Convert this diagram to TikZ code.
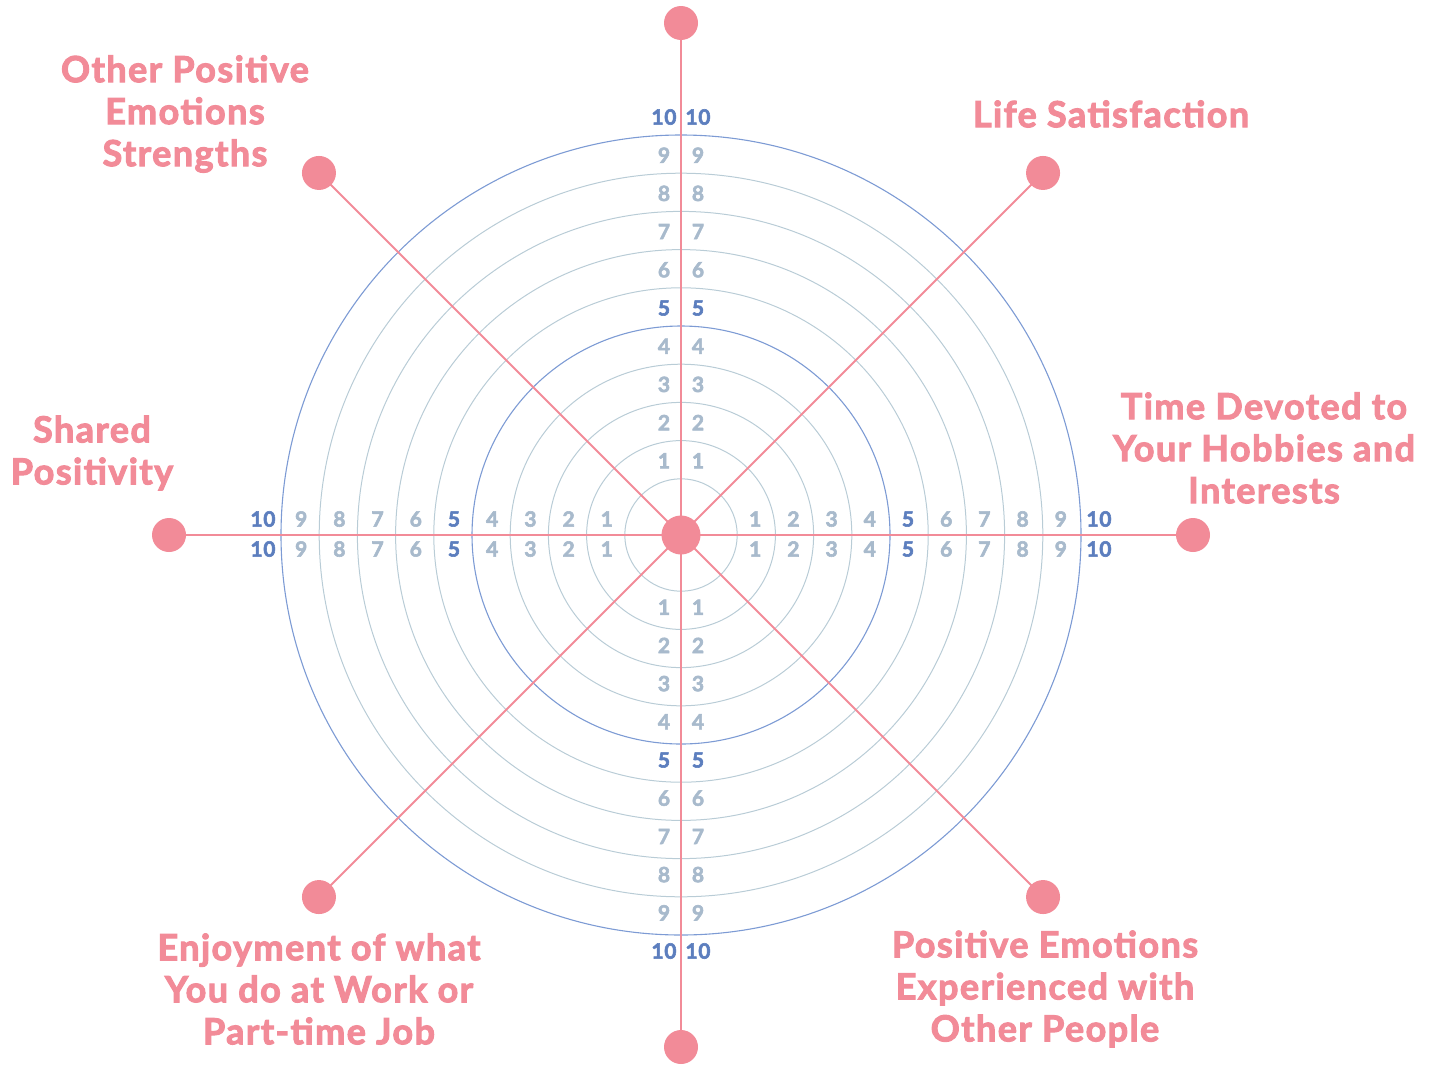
\documentclass[tikz,border=0pt]{standalone}
\usepackage{fontspec}
\setmainfont{Lato}[BoldFeatures={FakeBold=2.8}]
\usetikzlibrary{calc}
\definecolor{pk}{RGB}{242,139,152}
\definecolor{nblue}{RGB}{92,126,190}
\definecolor{ngrey}{RGB}{168,186,204}
\definecolor{cblue}{RGB}{125,155,212}
\definecolor{cgrey}{RGB}{185,204,214}
\tikzset{
  ringmajor/.style={draw=cblue,line width=1.1pt},
  ringminor/.style={draw=cgrey,line width=1pt},
  spoke/.style={draw=pk,line width=2pt},
  enddot/.style={circle,fill=pk,minimum size=34pt,inner sep=0pt},
  hubdot/.style={circle,fill=pk,minimum size=39pt,inner sep=0pt},
  nummajor/.style={text=nblue,font=\fontsize{21}{21}\selectfont\bfseries\addfontfeatures{LetterSpace=3,FakeBold=3.6},inner sep=0pt},
  numminor/.style={text=ngrey,font=\fontsize{21}{21}\selectfont\bfseries\addfontfeatures{LetterSpace=3,FakeBold=3.6},inner sep=0pt},
  cat/.style={text=pk,font=\fontsize{36}{42}\selectfont\bfseries\addfontfeatures{LetterSpace=4,FakeBold=3.6},align=center,inner sep=0pt}
}
\begin{document}
\begin{tikzpicture}[x=1pt,y=-1pt]
\useasboundingbox (0,0) rectangle (1431,1068);
\coordinate (c) at (681,535);
% rings
\foreach \k in {1,...,10}{
  \pgfmathsetmacro{\rr}{18+38.2*\k}
  \ifnum\k=5 \def\st{ringmajor}\else\ifnum\k=10 \def\st{ringmajor}\else\def\st{ringminor}\fi\fi
  \path[\st] (c) circle (\rr);
}
% spokes and end dots
\foreach \a/\n in {0/e,45/se,90/s,135/sw,180/w,225/nw,270/n,315/ne}{
  \path (c) ++(\a:512) coordinate (p\n);
  \path[spoke] (c) -- (p\n);
}
\foreach \n in {e,se,s,sw,w,nw,n,ne}{
  \node[enddot] (d\n) at (p\n) {};
}
\node[hubdot] (hub) at (c) {};
% numbers
\foreach \k in {1,...,10}{
  \pgfmathsetmacro{\rl}{36+38.2*\k}
  \ifnum\k=5 \def\ns{nummajor}\else\ifnum\k=10 \def\ns{nummajor}\else\def\ns{numminor}\fi\fi
  \node[\ns] (nnl\k) at ($(664,535)+(0,-\rl)$) {\k};
  \node[\ns] (nnr\k) at ($(698,535)+(0,-\rl)$) {\k};
  \node[\ns] (nsl\k) at ($(664,535)+(0,\rl-2)$) {\k};
  \node[\ns] (nsr\k) at ($(698,535)+(0,\rl-2)$) {\k};
  \node[\ns] (neu\k) at ($(681,519)+(\rl,0)$) {\k};
  \node[\ns] (ned\k) at ($(681,549)+(\rl,0)$) {\k};
  \node[\ns] (nwu\k) at ($(681,519)+(-\rl,0)$) {\k};
  \node[\ns] (nwd\k) at ($(681,549)+(-\rl,0)$) {\k};
}
% category labels
\node[cat] (lop) at (185,114) {Other Positive\\Emotions\\Strengths};
\node[cat] (lls) at (1111,114) {Life Satisfaction};
\node[cat] (lth) at (1264,448) {Time Devoted to\\Your Hobbies and\\Interests};
\node[cat] (lsp) at (92,453) {Shared\\Positivity};
\node[cat] (lej) at (319,989) {Enjoyment of what\\You do at Work or\\Part-time Job};
\node[cat] (lpe) at (1045,989) {Positive Emotions\\Experienced with\\Other People};
\end{tikzpicture}
\end{document}
